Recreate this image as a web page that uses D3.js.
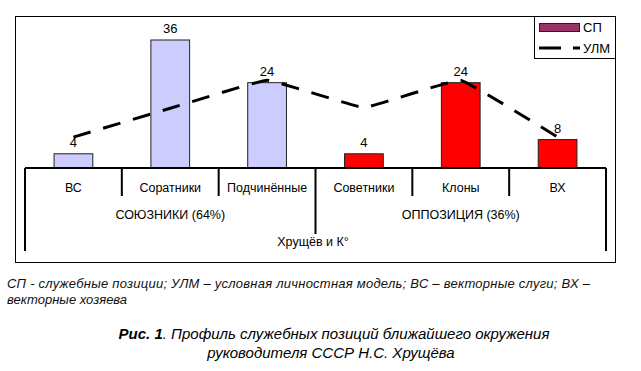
<!DOCTYPE html>
<html>
<head>
<meta charset="utf-8">
<script src="https://cdn.jsdelivr.net/npm/d3@7"></script>
<style>
  body { margin: 0; background: #fff; }
  svg { display: block; font-family: "Liberation Sans", Arial, sans-serif; }
</style>
</head>
<body>
<div id="chart"></div>
<script>
// Profile of service positions around Khrushchev

const categories = ["ВС", "Соратники", "Подчинённые", "Советники", "Клоны", "ВХ"];
const groupNames = ["СОЮЗНИКИ (64%)", "ОППОЗИЦИЯ (36%)"];
const groupOf = [0, 0, 0, 1, 1, 1];
const topLabel = "Хрущёв и К°";

const spValues = [4, 36, 24, 4, 24, 8];       // СП - bars
const ulmValues = [8.7, 16.8, 24.7, 17, 24.7, 8.7]; // УЛМ - dashed line

const seriesNames = ["СП", "УЛМ"];
const footnote = [
    "СП -  служебные позиции; УЛМ – условная личностная модель; ВС – векторные слуги; ВХ –",
    "векторные хозяева"
];
const captionBold = "Рис. 1";
const captionRest = ". Профиль служебных позиций ближайшего окружения";
const captionLine2 = "руководителя СССР Н.С. Хрущёва";

const width = 641, height = 371;

const svg = d3.select("#chart").append("svg")
    .attr("width", width)
    .attr("height", height);

// outer frame of the chart area
svg.append("rect")
    .attr("x", 15.5).attr("y", 16.5)
    .attr("width", 600).attr("height", 246)
    .attr("fill", "none")
    .attr("stroke", "#000")
    .attr("stroke-width", 1);

const x = d3.scaleBand()
    .domain(categories)
    .range([25, 606])
    .paddingInner(0)
    .paddingOuter(0);

const y = d3.scaleLinear()
    .domain([0, 36])
    .range([168, 40]);

const barW = x.bandwidth() * 0.4;
const groupColors = ["#ccccff", "#ff0000"];

// bars
svg.append("g")
    .selectAll("rect")
    .data(spValues)
    .join("rect")
    .attr("x", (d, i) => x(categories[i]) + (x.bandwidth() - barW) / 2)
    .attr("y", d => y(d))
    .attr("width", barW)
    .attr("height", d => y(0) - y(d))
    .attr("fill", (d, i) => groupColors[groupOf[i]])
    .attr("stroke", "#222")
    .attr("stroke-width", 1);

// value labels
svg.append("g")
    .selectAll("text")
    .data(spValues)
    .join("text")
    .attr("x", (d, i) => x(categories[i]) + x.bandwidth() / 2)
    .attr("y", d => y(d) - 7)
    .attr("text-anchor", "middle")
    .style("font-size", "13px")
    .text(d => d);

// УЛМ dashed line (slightly smoothed, like the spreadsheet original)
const line = d3.line()
    .x((d, i) => x(categories[i]) + x.bandwidth() / 2)
    .y(d => y(d))
    .curve(d3.curveCardinal.tension(0.8));

svg.append("path")
    .datum(ulmValues)
    .attr("d", line)
    .attr("fill", "none")
    .attr("stroke", "#000")
    .attr("stroke-width", 3)
    .attr("stroke-dasharray", "18,13");

// multi-level category axis
const axis = svg.append("g").attr("stroke", "#000").attr("stroke-width", 2);
const y0 = y(0);
axis.append("line")
    .attr("x1", x.range()[0]).attr("x2", x.range()[1])
    .attr("y1", y0).attr("y2", y0);

// separators: between categories short, between groups longer, outer edges longest
const edges = categories.map(c => x(c)).concat([x.range()[1]]);
edges.forEach((ex, i) => {
    let len = 196;
    if (i === 0 || i === edges.length - 1) len = 251;
    else if (groupOf[i] !== groupOf[i - 1]) len = 234;
    axis.append("line")
        .attr("x1", ex).attr("x2", ex)
        .attr("y1", y0).attr("y2", len);
});

svg.append("g")
    .selectAll("text")
    .data(categories)
    .join("text")
    .attr("x", d => x(d) + x.bandwidth() / 2)
    .attr("y", 192)
    .attr("text-anchor", "middle")
    .style("font-size", "12.5px")
    .text(d => d);

svg.append("g")
    .selectAll("text")
    .data(groupNames)
    .join("text")
    .attr("x", (g, gi) => {
        const members = categories.filter((c, i) => groupOf[i] === gi);
        return (x(members[0]) + x(members[members.length - 1]) + x.bandwidth()) / 2;
    })
    .attr("y", 219)
    .attr("text-anchor", "middle")
    .style("font-size", "12.5px")
    .text(d => d);

svg.append("text")
    .attr("x", 313)
    .attr("y", 246)
    .attr("text-anchor", "middle")
    .style("font-size", "12.5px")
    .text(topLabel);

// legend
const legend = svg.append("g");
legend.append("rect")
    .attr("x", 534.5).attr("y", 16.5)
    .attr("width", 81).attr("height", 42)
    .attr("fill", "#fff")
    .attr("stroke", "#000");
legend.append("rect")
    .attr("x", 539.5).attr("y", 23.5)
    .attr("width", 40).attr("height", 8)
    .attr("fill", "#993366")
    .attr("stroke", "#222");
legend.append("line")
    .attr("x1", 539).attr("x2", 580)
    .attr("y1", 48).attr("y2", 48)
    .attr("stroke", "#000")
    .attr("stroke-width", 3)
    .attr("stroke-dasharray", "22,12");
legend.selectAll("text.lg")
    .data(seriesNames)
    .join("text")
    .attr("class", "lg")
    .attr("x", 583)
    .attr("y", (d, i) => 32 + i * 21)
    .style("font-size", "13px")
    .text(d => d);

// footnote
svg.append("g")
    .selectAll("text")
    .data(footnote)
    .join("text")
    .attr("x", 7)
    .attr("y", (d, i) => 288 + i * 16)
    .attr("textLength", (d, i) => i === 0 ? 583 : null)
    .attr("lengthAdjust", "spacing")
    .style("font-size", "13px")
    .style("font-style", "italic")
    .style("fill", "#111")
    .text(d => d);

// caption
const cap = svg.append("text")
    .attr("x", 334)
    .attr("y", 339)
    .attr("text-anchor", "middle")
    .style("font-size", "15px")
    .style("font-style", "italic");
cap.append("tspan").style("font-weight", "bold").text(captionBold);
cap.append("tspan").text(captionRest);

svg.append("text")
    .attr("x", 331)
    .attr("y", 358)
    .attr("text-anchor", "middle")
    .style("font-size", "15px")
    .style("font-style", "italic")
    .text(captionLine2);
</script>
</body>
</html>
